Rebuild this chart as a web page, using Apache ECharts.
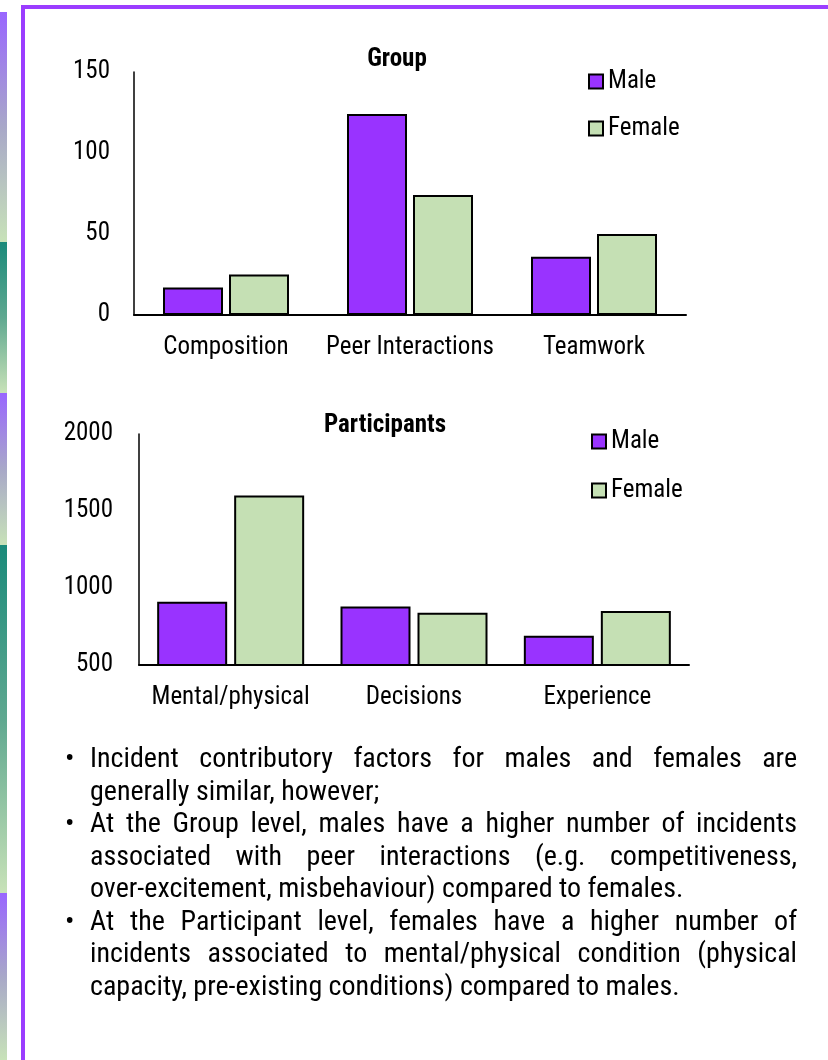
<!DOCTYPE html>
<html>
<head>
<meta charset="utf-8">
<script src="https://cdn.jsdelivr.net/npm/echarts@6/dist/echarts.min.js"></script>
<style>
html,body{margin:0;padding:0;background:#fff;}
#chart{width:828px;height:1060px;}
</style>
</head>
<body>
<div id="chart"></div>
<script>
// ---- data ----
const groupCategories = ['Composition', 'Peer Interactions', 'Teamwork'];
const groupMale = [17, 124, 36];
const groupFemale = [25, 74, 50];
const groupAxis = { min: 0, max: 150, interval: 50 };

const partCategories = ['Mental/physical', 'Decisions', 'Experience'];
const partMale = [910, 880, 690];
const partFemale = [1600, 840, 850];
const partAxis = { min: 500, max: 2000, interval: 500 };

const seriesNames = ['Male', 'Female'];
const titles = ['Group', 'Participants'];

const bullets = [
  ['Incident contributory factors for males and females are',
   'generally similar, however;'],
  ['At the Group level, males have a higher number of incidents',
   'associated with peer interactions (e.g. competitiveness,',
   'over-excitement, misbehaviour) compared to females.'],
  ['At the Participant level, females have a higher number of',
   'incidents associated to mental/physical condition (physical',
   'capacity, pre-existing conditions) compared to males.']
];

// ---- styles ----
const FONT = '"Roboto Condensed", "Liberation Sans", Arial, sans-serif';
const MALE = '#9933FF';
const FEMALE = '#C5E0B4';
const FRAME = '#9B3DFF';

const chart = echarts.init(document.getElementById('chart'), null, { renderer: 'canvas' });

function axisX(gi, cats) {
  return {
    type: 'category', gridIndex: gi, data: cats,
    axisLine: { lineStyle: { color: '#000', width: 2 } },
    axisTick: { show: false },
    axisLabel: { color: '#000', fontSize: 25, fontFamily: FONT, margin: 20, interval: 0 }
  };
}
function axisY(gi, ax, margin) {
  return {
    type: 'value', gridIndex: gi, min: ax.min, max: ax.max, interval: ax.interval,
    axisLine: { show: true, lineStyle: { color: '#000', width: 1.5 } },
    axisTick: { show: false },
    splitLine: { show: false },
    axisLabel: { color: '#000', fontSize: 25, fontFamily: FONT, margin: margin,
      formatter: v => String(v) }
  };
}
function bar(name, xi, data, color, width) {
  return {
    name: name, type: 'bar', xAxisIndex: xi, yAxisIndex: xi, data: data,
    barWidth: width, barGap: '10%',
    itemStyle: { color: color, borderColor: '#000', borderWidth: 2 },
    emphasis: { disabled: true }
  };
}

// body text (justified) built with canvas measurement
const BODY_SIZE = 28;
const bodyFont = BODY_SIZE + 'px ' + FONT;
const mctx = document.createElement('canvas').getContext('2d');
mctx.font = bodyFont;
const TEXT_L = 90, TEXT_R = 797, LINE0 = 760, LINE_H = 32.5, BULLET_X = 65;
const textEls = [];
let li = 0;
bullets.forEach(lines => {
  lines.forEach((line, k) => {
    const y = LINE0 + li * LINE_H;
    if (k === 0) {
      textEls.push({ type: 'text', x: BULLET_X, y: y, silent: true,
        style: { text: '•', font: bodyFont, fill: '#000', textVerticalAlign: 'middle', verticalAlign: 'middle' } });
    }
    const last = k === lines.length - 1;
    if (last) {
      textEls.push({ type: 'text', x: TEXT_L, y: y, silent: true,
        style: { text: line, font: bodyFont, fill: '#000', textVerticalAlign: 'middle', verticalAlign: 'middle' } });
    } else {
      const words = line.split(' ');
      const ws = words.map(w => mctx.measureText(w).width);
      const total = ws.reduce((a, b) => a + b, 0);
      const gap = (TEXT_R - TEXT_L - total) / (words.length - 1);
      let x = TEXT_L;
      words.forEach((w, i) => {
        textEls.push({ type: 'text', x: x, y: y, silent: true,
          style: { text: w, font: bodyFont, fill: '#000', textVerticalAlign: 'middle', verticalAlign: 'middle' } });
        x += ws[i] + gap;
      });
    }
    li++;
  });
});

// decorative left strip and frame
function grad(c0, c1) {
  return new echarts.graphic.LinearGradient(0, 0, 0, 1, [
    { offset: 0, color: c0 }, { offset: 0.5, color: c0 === '#9966FF' ? '#A8A8C8' : '#5FA890' }, { offset: 1, color: c1 }
  ]);
}
const strip = [
  [12, 242, '#9966FF'], [242, 393, '#1A8A7A'], [393, 545, '#9966FF'],
  [545, 893, '#1A8A7A'], [893, 1060, '#9966FF']
].map(s => ({ type: 'rect', silent: true, shape: { x: 0, y: s[0], width: 7, height: s[1] - s[0] },
  style: { fill: grad(s[2], '#C8E2B8') } }));

const decor = strip.concat([
  { type: 'rect', silent: true, shape: { x: 23, y: 7, width: 900, height: 1200 },
    style: { fill: 'none', stroke: FRAME, lineWidth: 4 } }
]);

const option = {
  animation: false,
  backgroundColor: '#fff',
  title: [
    { text: titles[0], left: 392, top: 42, textAlign: 'center',
      textStyle: { fontSize: 25, fontWeight: 'bold', fontFamily: FONT, color: '#000' } },
    { text: titles[1], left: 380, top: 408, textAlign: 'center',
      textStyle: { fontSize: 25, fontWeight: 'bold', fontFamily: FONT, color: '#000' } }
  ],
  legend: [
    { data: seriesNames, orient: 'vertical', left: 583, top: 64, itemWidth: 14, itemHeight: 14, itemGap: 22,
      icon: 'rect', selectedMode: false,
      itemStyle: { borderColor: '#000', borderWidth: 2 },
      textStyle: { fontSize: 25, fontFamily: FONT, color: '#000' } },
    { data: seriesNames, orient: 'vertical', left: 586, top: 424, itemWidth: 14, itemHeight: 14, itemGap: 24,
      icon: 'rect', selectedMode: false,
      itemStyle: { borderColor: '#000', borderWidth: 2 },
      textStyle: { fontSize: 25, fontFamily: FONT, color: '#000' } }
  ],
  grid: [
    { left: 134, right: 142, top: 72, bottom: 745, containLabel: false },
    { left: 139, right: 139, top: 434, bottom: 395, containLabel: false }
  ],
  xAxis: [axisX(0, groupCategories), axisX(1, partCategories)],
  yAxis: [axisY(0, groupAxis, 24), axisY(1, partAxis, 26)],
  series: [
    bar(seriesNames[0], 0, groupMale, MALE, 60),
    bar(seriesNames[1], 0, groupFemale, FEMALE, 60),
    bar(seriesNames[0], 1, partMale, MALE, 70),
    bar(seriesNames[1], 1, partFemale, FEMALE, 70)
  ],
  graphic: decor.concat(textEls)
};
chart.setOption(option);
</script>
</body>
</html>
